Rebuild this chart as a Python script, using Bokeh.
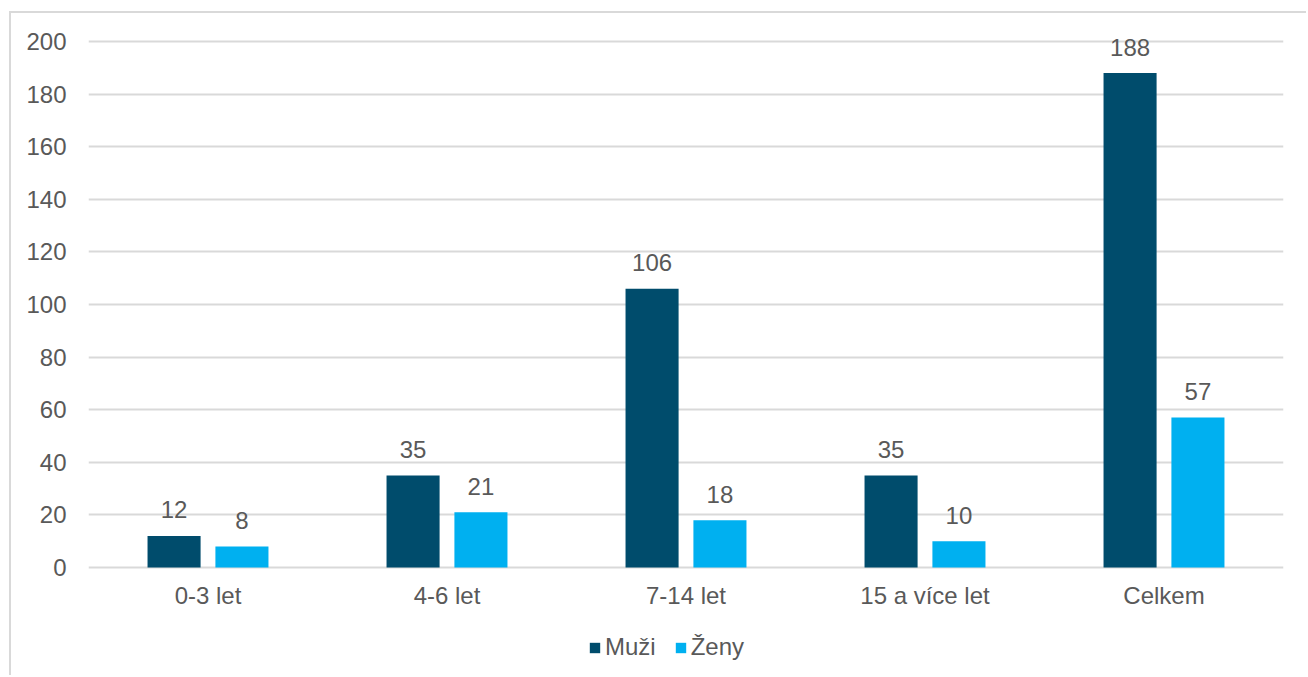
from bokeh.plotting import figure
from bokeh.models import ColumnDataSource, FactorRange, Legend, LegendItem
from bokeh.transform import dodge
from bokeh.core.properties import value
from bokeh.embed import file_html
from bokeh.resources import INLINE

categories = ["0-3 let", "4-6 let", "7-14 let", "15 a více let", "Celkem"]
muzi = [12, 35, 106, 35, 188]
zeny = [8, 21, 18, 10, 57]
series_names = ["Muži", "Ženy"]
y_ticks = [0, 20, 40, 60, 80, 100, 120, 140, 160, 180, 200]

C_M = "#004c6c"
C_Z = "#00b0f0"
TXT = "#595959"
FONT = "Liberation Sans"

src = ColumnDataSource(dict(cat=categories, muzi=muzi, zeny=zeny,
                            muzi_l=[str(v) for v in muzi], zeny_l=[str(v) for v in zeny]))

# frame spans the whole canvas height; y=0 sits 110 px above the bottom,
# y=200 sits 28 px below the top (526 px per 200 units)
px_per_unit = 526 / 200
y_bottom = -110 / px_per_unit
y_top = 200 + 28 / px_per_unit
p = figure(x_range=FactorRange(*categories, range_padding=0), y_range=(y_bottom, y_top),
           width=1297, height=664, output_backend="svg", toolbar_location=None,
           min_border_left=77, min_border_top=0, min_border_right=25, min_border_bottom=0,
           margin=(11, 0, 0, 9))
p.styles = {"border-left": "2px solid #d9d9d9", "border-top": "2px solid #d9d9d9"}
p.outline_line_color = None
p.background_fill_color = "white"
p.border_fill_color = "white"

off = 0.142
w = 0.222
r1 = p.vbar(x=dodge("cat", -off, range=p.x_range), top="muzi", width=w, source=src,
            fill_color=C_M, line_color=None)
r2 = p.vbar(x=dodge("cat", off, range=p.x_range), top="zeny", width=w, source=src,
            fill_color=C_Z, line_color=None)

p.text(x=dodge("cat", -off, range=p.x_range), y="muzi", text="muzi_l", source=src,
       text_align="center", text_baseline="alphabetic", y_offset=-26,
       text_font=value(FONT), text_font_size="24px", text_color=TXT)
p.text(x=dodge("cat", off, range=p.x_range), y="zeny", text="zeny_l", source=src,
       text_align="center", text_baseline="alphabetic", y_offset=-26,
       text_font=value(FONT), text_font_size="24px", text_color=TXT)

p.yaxis.ticker = y_ticks
p.xaxis.fixed_location = 0
for ax in (p.xaxis[0], p.yaxis[0]):
    ax.axis_line_color = None
    ax.major_tick_line_color = None
    ax.minor_tick_line_color = None
    ax.major_label_text_font = FONT
    ax.major_label_text_font_size = "24px"
    ax.major_label_text_color = TXT
p.yaxis.major_label_standoff = 16
p.xaxis.major_label_standoff = 8

p.xgrid.grid_line_color = None
p.ygrid.grid_line_color = "#d9d9d9"
p.ygrid.grid_line_width = 2

legend = Legend(items=[LegendItem(label=series_names[0], renderers=[r1]),
                       LegendItem(label=series_names[1], renderers=[r2])],
                orientation="horizontal", location=(500, 16),
                glyph_width=13, glyph_height=13, label_standoff=4, spacing=18,
                padding=0, margin=0, border_line_color=None, background_fill_alpha=0,
                label_text_font=FONT, label_text_font_size="24px", label_text_color=TXT)
p.add_layout(legend, "center")

open("out.html", "w").write(file_html(p, INLINE))
